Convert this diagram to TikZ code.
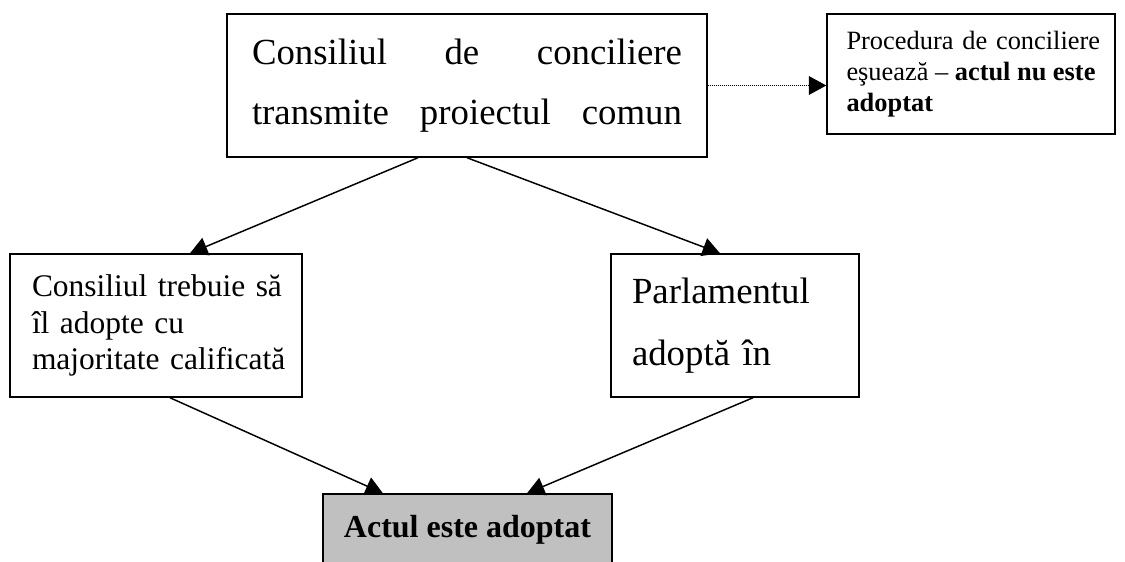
\documentclass[tikz,border=0pt]{standalone}
\usepackage{fontspec}
\setmainfont{Liberation Serif}
\usetikzlibrary{arrows.meta}
\definecolor{gri}{RGB}{192,192,192}
\tikzset{
  caseta/.style={draw, line width=1.1pt, rectangle, inner sep=0pt, align=left},
  sageata/.style={line width=1.1pt, -{Triangle[length=13pt,width=14pt]}},
}

\begin{document}
\begin{tikzpicture}[x=0.75pt,y=-0.75pt]
  \clip (0,0) rectangle (1125,561);

  % caseta de sus
  \node[caseta, minimum width=360pt, minimum height=107.25pt, text width=322.5pt,
    font=\fontsize{27.6}{45}\selectfont] (consiliu) at (467,85.5)
    {Consiliul\hfill de\hfill conciliere\\transmite\hfill proiectul\hfill comun};

  % esec
  \node[caseta, minimum width=216pt, minimum height=90pt, text width=186.75pt,
    font=\fontsize{19.8}{23.5}\selectfont] (esec) at (971,74)
    {\mbox{Procedura de conciliere}\\eşuează\hfill --\hfill \textbf{actul\hfill nu\hfill este}\\\textbf{adoptat}};

  % cele doua ramuri
  \node[caseta, minimum width=219pt, minimum height=107.25pt, text width=186pt,
    font=\fontsize{23.6}{27.4}\selectfont] (consiliul) at (156,325.5)
    {\mbox{Consiliul trebuie să}\\\mbox{îl adopte cu}\\\mbox{majoritate calificată}};
  \node[caseta, minimum width=186pt, minimum height=107.25pt, text width=154.5pt,
    font=\fontsize{27.6}{46}\selectfont] (parlament) at (735,325.5)
    {Parlamentul\\adoptă în};

  % rezultat
  \node[caseta, fill=gri, align=center, minimum width=216.75pt, minimum height=54pt,
    font=\bfseries\fontsize{24}{29}\selectfont] (adoptat) at (467.5,530)
    {Actul este adoptat};

  % sageti
  \draw[sageata] ([xshift=-36.75pt]consiliu.south) -- ([xshift=25.5pt]consiliul.north);
  \draw[sageata] (consiliu.south) -- ([xshift=-11.25pt]parlament.north);
  \draw[sageata] ([xshift=10.5pt]consiliul.south) -- ([xshift=-63.4pt]adoptat.north);
  \draw[sageata] ([xshift=13.5pt]parlament.south) -- ([xshift=44.6pt]adoptat.north);
  \draw[sageata, line width=0.75pt, dash pattern=on 0.75pt off 0.75pt]
    (consiliu.east) -- (consiliu.east -| esec.west);

\end{tikzpicture}
\end{document}
